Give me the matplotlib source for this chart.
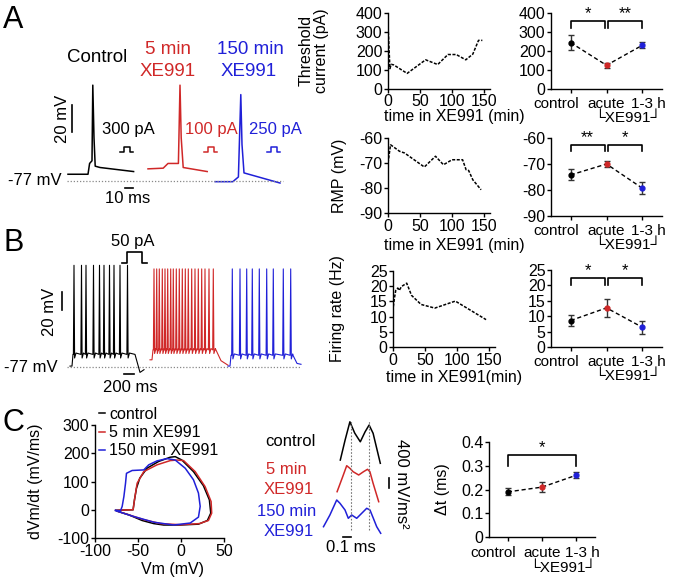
import numpy as np
import matplotlib
matplotlib.use('Agg')
import matplotlib.pyplot as plt
import matplotlib.transforms as mtrans

plt.rcParams['font.family'] = ['Liberation Sans', 'DejaVu Sans']
plt.rcParams['font.size'] = 11.5
plt.rcParams['axes.unicode_minus'] = False

RED = '#d02828'
BLUE = '#2020d8'
cond_colors = ['black', RED, BLUE]

# ---------------- data ----------------
# A: single action potentials (ms from trace start, mV)
ap_ctrl_t = [0, 25, 27, 30, 31, 32.5, 34, 40, 82]
ap_ctrl_v = [-72, -72, -64, -62, -6, -45, -66, -67, -70]
ap_5min_t = [0, 19, 25, 38, 40, 41.5, 44, 74]
ap_5min_v = [-68, -67.5, -64, -64, -6, -45, -67, -70]
ap_150_t = [0, 22, 29, 32, 33.5, 36, 81]
ap_150_v = [-77.5, -77.5, -74, -13, -50, -71, -78.5]
step_currents = ['300 pA', '100 pA', '250 pA']

# B: spike trains (ms from trace start)
spk_ctrl = [80, 230, 320, 470, 590, 680, 790, 880, 1000, 1150]
spk_5min = [80, 134, 186, 246, 300, 354, 414, 466, 526, 586, 646, 706, 766,
            834, 900, 966, 1034, 1100, 1180, 1266]
spk_150 = [86, 240, 374, 486, 626, 774, 906, 1106, 1254]
env_ctrl_t = [0, 40, 60, 1300, 1400, 1480]
env_ctrl_v = [-76, -76, -63, -63, -83, -80]
env_5min_t = [0, 40, 60, 1300, 1420, 1560]
env_5min_v = [-69, -69, -58, -58, -70, -75]
env_150_t = [0, 40, 60, 1300, 1380, 1460]
env_150_v = [-76, -76, -64, -64, -73, -74]
spk_peaks = [36, 32, 32]

# time courses
thr_t = [0.5, 3, 5, 9, 30, 59, 78, 94, 107, 122, 133, 142, 148]
thr_v = [300, 105, 128, 125, 80, 152, 127, 180, 180, 152, 182, 255, 255]
rmp_t = [0, 4, 18, 26, 57, 74.5, 87, 100.5, 117, 122.5, 126.5, 133, 146]
rmp_v = [-70, -62.7, -65.3, -66, -71.6, -67.3, -70.7, -68.7, -68.7, -72.7, -73, -76.7, -80.7]
fr_t = [0.5, 2.2, 4.3, 7.5, 9.7, 13.4, 21.5, 29, 44, 65.6, 97.8, 146]
fr_v = [13.3, 16, 18.6, 19.4, 18.6, 19.9, 21, 17, 14, 12.8, 15.1, 9.0]

# summaries
cat_names = ['control', 'acute', '1-3 h']
thr_mean = [243, 123, 229]
thr_err = [40, 13, 15]
rmp_mean = [-74.2, -70.0, -79.3]
rmp_err = [2.1, 1.2, 2.3]
fr_mean = [8.6, 12.7, 6.4]
fr_err = [1.7, 2.8, 2.1]
dt_mean = [0.19, 0.21, 0.26]
dt_err = [0.015, 0.02, 0.012]

# C: phase plots (Vm mV, dVm/dt mV/ms)
ph_ctrl_x = [-76, -55.7, -54.1, -51.8, -47.9, -39.5, -26, -12.5, -6.7, 1, 14.5, 26.1, 33,
             34.6, 30.7, 20.3, -0.9, -20.2, -31.7, -45.2, -60.7, -74.2]
ph_ctrl_y = [-2, 0, 35, 76, 112, 147, 171, 186, 188, 176, 135, 85, 35,
             -12, -38, -51, -54, -54, -49, -38, -18, -5]
ph_5min_x = [-76, -55.7, -54.1, -51, -43.3, -27.9, -12.5, -4.7, 3, 16.5, 28, 35,
             35.7, 31.9, 21.5, -0.9, -24, -43.3, -60.7, -74.2]
ph_5min_y = [-2, 0, 35, 94, 135, 159, 174, 176, 174, 135, 82, 29,
             -12, -38, -49, -53, -49, -35, -18, -5]
ph_150_x = [-76.1, -70.3, -68.4, -66.4, -64.5, -63.4, -56.8, -43.3, -37.5, -27.9, -16.3,
            -6.7, 4.9, 14.5, 20.3, 22.3, 20.3, 10.7, -8.6, -31.7, -54.9, -70.3, -76.1]
ph_150_y = [-2, -3.5, 12, 47, 94, 129, 139, 141, 159, 173, 181,
            176, 147, 106, 59, 12, -26, -47, -54, -44, -24, -9, -3]

# C: second derivative traces (ms, mV/ms^2)
d2_ctrl_t = [-0.13, -0.07, -0.01, 0.05, 0.12, 0.18, 0.23, 0.28, 0.37]
d2_ctrl_v = [130, 930, 1660, 1210, 860, 1260, 1530, 1200, 0]
d2_5min_t = [-0.17, -0.10, -0.05, -0.01, 0.03, 0.10, 0.16, 0.21, 0.24, 0.28, 0.35]
d2_5min_v = [400, 1000, 1440, 1336, 1200, 1068, 1200, 1296, 1200, 736, 0]
d2_150_t = [-0.34, -0.26, -0.175, -0.134, -0.071, -0.03, 0.0125, 0.075, 0.1375, 0.2,
            0.241, 0.283, 0.325, 0.375]
d2_150_v = [264, 732, 1332, 1200, 932, 600, 732, 600, 800, 1000, 932, 600, 264, 0]
peak_marks = [0, 0.2325]

# ---------------- figure ----------------
W, H = 677, 580
fig = plt.figure(figsize=(W / 100, H / 100), dpi=100)


def box(l, t, r, b):
    return fig.add_axes([l / W, 1 - b / H, (r - l) / W, (b - t) / H])


ov = box(0, 0, W, H)
ov.set_xlim(0, W)
ov.set_ylim(H, 0)
ov.axis('off')
for letter, x, y in [('A', 3, 5), ('B', 4, 228), ('C', 3, 408)]:
    ov.text(x, y, letter, fontsize=22, va='top', ha='left')

# ---- A: single spikes
axA = box(60, 78, 290, 200)
axA.set_xlim(0, 230 / 0.8)
yb = -77 - 19 / 1.35
axA.set_ylim(yb, yb + 122 / 1.35)
axA.axis('off')
for t, v, t0, c in zip([ap_ctrl_t, ap_5min_t, ap_150_t], [ap_ctrl_v, ap_5min_v, ap_150_v],
                       [10, 110, 194], cond_colors):
    axA.plot(np.array(t) + t0, v, color=c, lw=1.1)
axA.hlines(-77, 9, 279, colors='#888888', linestyles=(0, (1, 1.5)), lw=0.9)
pulse_t = np.array([0, 5, 5, 12, 12, 16])
pulse_v = np.array([0, 0, 4, 4, 0, 0])
for lab, px, tx, c in zip(step_currents, [75, 180, 259], [86, 189, 269], cond_colors):
    axA.plot(pulse_t + px, pulse_v - 55.5, color=c, lw=1.1)
    axA.text(tx, -39, lab, color=c, ha='center', va='center', fontsize=12)
axA.text(2.5, -77, '-77 mV', ha='right', va='center', fontsize=12)
axA.plot([15, 15], [-40.7, -20.7], color='k', lw=1.2)
axA.text(13, -31, '20 mV', rotation=90, ha='right', va='center', fontsize=12)
axA.plot([81, 91], [-82.2, -82.2], color='k', lw=1.2)
axA.text(85, -90, '10 ms', ha='center', va='center', fontsize=12)
ov.text(97, 57, 'Control', fontsize=13.5, ha='center', va='center')
ov.text(168, 49, '5 min', fontsize=13.5, ha='center', va='center', color=RED)
ov.text(168, 71, 'XE991', fontsize=13.5, ha='center', va='center', color=RED)
ov.text(250, 49, '150 min', fontsize=13.5, ha='center', va='center', color=BLUE)
ov.text(249, 71, 'XE991', fontsize=13.5, ha='center', va='center', color=BLUE)

# ---- B: spike trains
axB = box(40, 235, 305, 395)
axB.set_xlim(0, 265 / 0.05)
yb = -77 - 28 / 0.9
axB.set_ylim(yb, yb + 160 / 0.9)
axB.axis('off')


def build_train(spikes, env_t, env_v, peak):
    t = list(env_t)
    v = list(env_v)
    for s in spikes:
        base = np.interp(s, env_t, env_v)
        t += [s - 12, s, s + 12, s + 40]
        v += [base, peak, base - 4, base + 1.5]
    order = np.argsort(t, kind='stable')
    return np.array(t)[order], np.array(v)[order]


for spk, et, ev, pk, t0, c in zip([spk_ctrl, spk_5min, spk_150],
                                  [env_ctrl_t, env_5min_t, env_150_t],
                                  [env_ctrl_v, env_5min_v, env_150_v],
                                  spk_peaks, [600, 2200, 3760], cond_colors):
    t, v = build_train(spk, et, ev, pk)
    axB.plot(t + t0, v, color=c, lw=0.8)
axB.hlines(-77, 540, 5200, colors='#888888', linestyles=(0, (1, 1.5)), lw=0.9)
axB.plot(np.array([0, 94, 94, 394, 394, 500]) + 1640, np.array([0, 0, 12, 12, 0, 0]) + 39,
         color='k', lw=1.2)
axB.text(1860, 62, '50 pA', ha='center', va='center', fontsize=12)
axB.plot([440, 440], [-13.7, 6.3], color='k', lw=1.2)
axB.text(200, -15.9, '20 mV', rotation=90, ha='center', va='center', fontsize=12)
axB.text(360, -77, '-77 mV', ha='right', va='center', fontsize=12)
axB.plot([1680, 1880], [-84.8, -84.8], color='k', lw=1.2)
axB.text(1800, -100.3, '200 ms', ha='center', va='center', fontsize=12)

# ---- time courses
def style(ax):
    ax.spines[['top', 'right']].set_visible(False)
    ax.tick_params(length=3, width=1, pad=1)
    for s in ax.spines.values():
        s.set_linewidth(1)


tc_ls = (0, (2, 1))
axT = box(388, 13, 490, 88.5)
axT.plot(thr_t, thr_v, color='k', ls=tc_ls, lw=1.1)
axT.set_xlim(0, 160)
axT.set_ylim(0, 400)
axT.set_yticks([0, 100, 200, 300, 400])
axT.set_xticks([0, 50, 100, 150])
axT.set_ylabel('Threshold\ncurrent (pA)', linespacing=1.0)
axT.yaxis.set_label_coords(-0.58, 0.5)
axT.set_xlabel('time in XE991 (min)', labelpad=0)
axT.xaxis.set_label_coords(0.65, -0.27)
style(axT)

axR = box(388, 138, 490, 213)
axR.plot(rmp_t, rmp_v, color='k', ls=tc_ls, lw=1.1)
axR.set_xlim(0, 160)
axR.set_ylim(-90, -60)
axR.set_yticks([-90, -80, -70, -60])
axR.set_xticks([0, 50, 100, 150])
axR.set_ylabel('RMP (mV)')
axR.yaxis.set_label_coords(-0.4, 0.5)
axR.set_xlabel('time in XE991 (min)')
axR.xaxis.set_label_coords(0.65, -0.33)
style(axR)

axF = box(393, 271, 495, 347)
axF.plot(fr_t, fr_v, color='k', ls=tc_ls, lw=1.1)
axF.set_xlim(0, 160)
axF.set_ylim(0, 25)
axF.set_yticks([0, 5, 10, 15, 20, 25])
axF.set_xticks([0, 50, 100, 150])
axF.set_ylabel('Firing rate (Hz)')
axF.yaxis.set_label_coords(-0.47, 0.5)
axF.set_xlabel('time in XE991(min)')
axF.xaxis.set_label_coords(0.6, -0.3)
style(axF)

# ---- summaries
cat_x = [0, 1, 2]


def summary(ax, means, errs, ylim, yticks, brackets, lab_pad, xe_pad):
    ax.plot(cat_x, means, color='k', ls=(0, (3, 2)), lw=1)
    for x, m, e, c in zip(cat_x, means, errs, cond_colors):
        ax.errorbar(x, m, yerr=e, fmt='o', color=c, ms=3.5, ecolor='#333333',
                    elinewidth=1, capsize=2, capthick=1)
    for (x0, x1), top, low, star in brackets:
        ax.plot([x0, x0, x1, x1], [low, top, top, low], color='k', lw=1.2)
        ax.text((x0 + x1) / 2, top, star, ha='center', va='bottom', fontsize=12)
    ax.set_xlim(-0.55, 2.55)
    ax.set_ylim(*ylim)
    ax.set_yticks(yticks)
    ax.set_xticks(cat_x)
    ax.set_xticklabels([])
    for x, name, dx, ha in zip(cat_x, cat_names, [8, 0, -11], ['right', 'center', 'left']):
        tr = mtrans.offset_copy(ax.get_xaxis_transform(), fig=fig, x=dx, y=-lab_pad, units='dots')
        ax.text(x, 0, name, transform=tr, ha=ha, va='top', fontsize=11)
    tr = mtrans.offset_copy(ax.get_xaxis_transform(), fig=fig, x=0, y=-xe_pad, units='dots')
    ax.text(1.6, 0, '└XE991┘', transform=tr, ha='center', va='top', fontsize=11)
    style(ax)


axTs = box(551, 13, 662, 88.5)
summary(axTs, thr_mean, thr_err, (0, 400), [0, 100, 200, 300, 400],
        [((0, 0.95), 355, 320, '*'), ((1.05, 2), 355, 320, '**')], 8, 22)
axRs = box(551, 138, 662, 216)
summary(axRs, rmp_mean, rmp_err, (-90, -60), [-90, -80, -70, -60],
        [((0, 0.95), -62.6, -65, '**'), ((1.05, 2), -62.6, -65, '*')], 8, 22)
axFs = box(551, 270, 662, 347)
summary(axFs, fr_mean, fr_err, (0, 25), [0, 5, 10, 15, 20, 25],
        [((0, 0.95), 22.3, 20.2, '*'), ((1.05, 2), 22.3, 20.2, '*')], 8, 22)
axDs = box(489, 442, 595, 537)
summary(axDs, dt_mean, dt_err, (0, 0.4), [0, 0.1, 0.2, 0.3, 0.4],
        [((0, 2), 0.345, 0.30, '*')], 9, 24)
axDs.set_yticklabels(['0', '0.1', '0.2', '0.3', '0.4'])
axDs.set_ylabel('Δt (ms)')
axDs.yaxis.set_label_coords(-0.37, 0.5)

# ---- C: phase plot
axP = box(95, 425, 224, 538)
for x, y, c, lab in zip([ph_ctrl_x, ph_5min_x, ph_150_x], [ph_ctrl_y, ph_5min_y, ph_150_y],
                        cond_colors, ['control', '5 min XE991', '150 min XE991']):
    axP.plot(x, y, color=c, lw=1.1, label=lab)
axP.set_xlim(-100, 50)
axP.set_ylim(-100, 300)
axP.set_xticks([-100, -50, 0, 50])
axP.set_yticks([-100, 0, 100, 200, 300])
axP.set_xlabel('Vm (mV)')
axP.xaxis.set_label_coords(0.6, -0.21)
axP.set_ylabel('dVm/dt (mV/ms)')
axP.yaxis.set_label_coords(-0.4, 0.5)
style(axP)
axP.legend(loc='upper left', bbox_to_anchor=(0.03, 1.16), frameon=False, handlelength=0.4,
           handletextpad=0.25, labelspacing=0.2, borderpad=0, borderaxespad=0)

# ---- C: second derivative traces
axD = box(320, 415, 400, 555)
axD.set_xlim((320 - 350.7) / 80, (400 - 350.7) / 80)
axD.set_ylim(0, 140 * 40)
axD.axis('off')
for t, v, off, c in zip([d2_ctrl_t, d2_5min_t, d2_150_t], [d2_ctrl_v, d2_5min_v, d2_150_v],
                        [3668, 2132, 868], cond_colors):
    axD.plot(t, np.array(v) + off, color=c, lw=1.1)
axD.vlines(peak_marks, 1000, 5400, colors='#777777', linestyles=(0, (1.5, 1.5)), lw=0.8)
axD.plot([-0.091, 0.009], [720, 720], color='k', lw=1.2)
axD.text(0.004, 280, '0.1 ms', ha='center', va='center', fontsize=12)
axD.plot([0.479, 0.479], [2680, 3080], color='k', lw=1.2)
axD.text(0.641, 2840, '400 mV/ms²', rotation=-90, ha='center', va='center', fontsize=12)
ov.text(290, 442, 'control', ha='center', va='center', fontsize=12)
ov.text(286, 470, '5 min', ha='center', va='center', color=RED, fontsize=12)
ov.text(289, 489, 'XE991', ha='center', va='center', color=RED, fontsize=12)
ov.text(287, 511, '150 min', ha='center', va='center', color=BLUE, fontsize=12)
ov.text(289, 531, 'XE991', ha='center', va='center', color=BLUE, fontsize=12)

fig.savefig('out.png', dpi=100)
